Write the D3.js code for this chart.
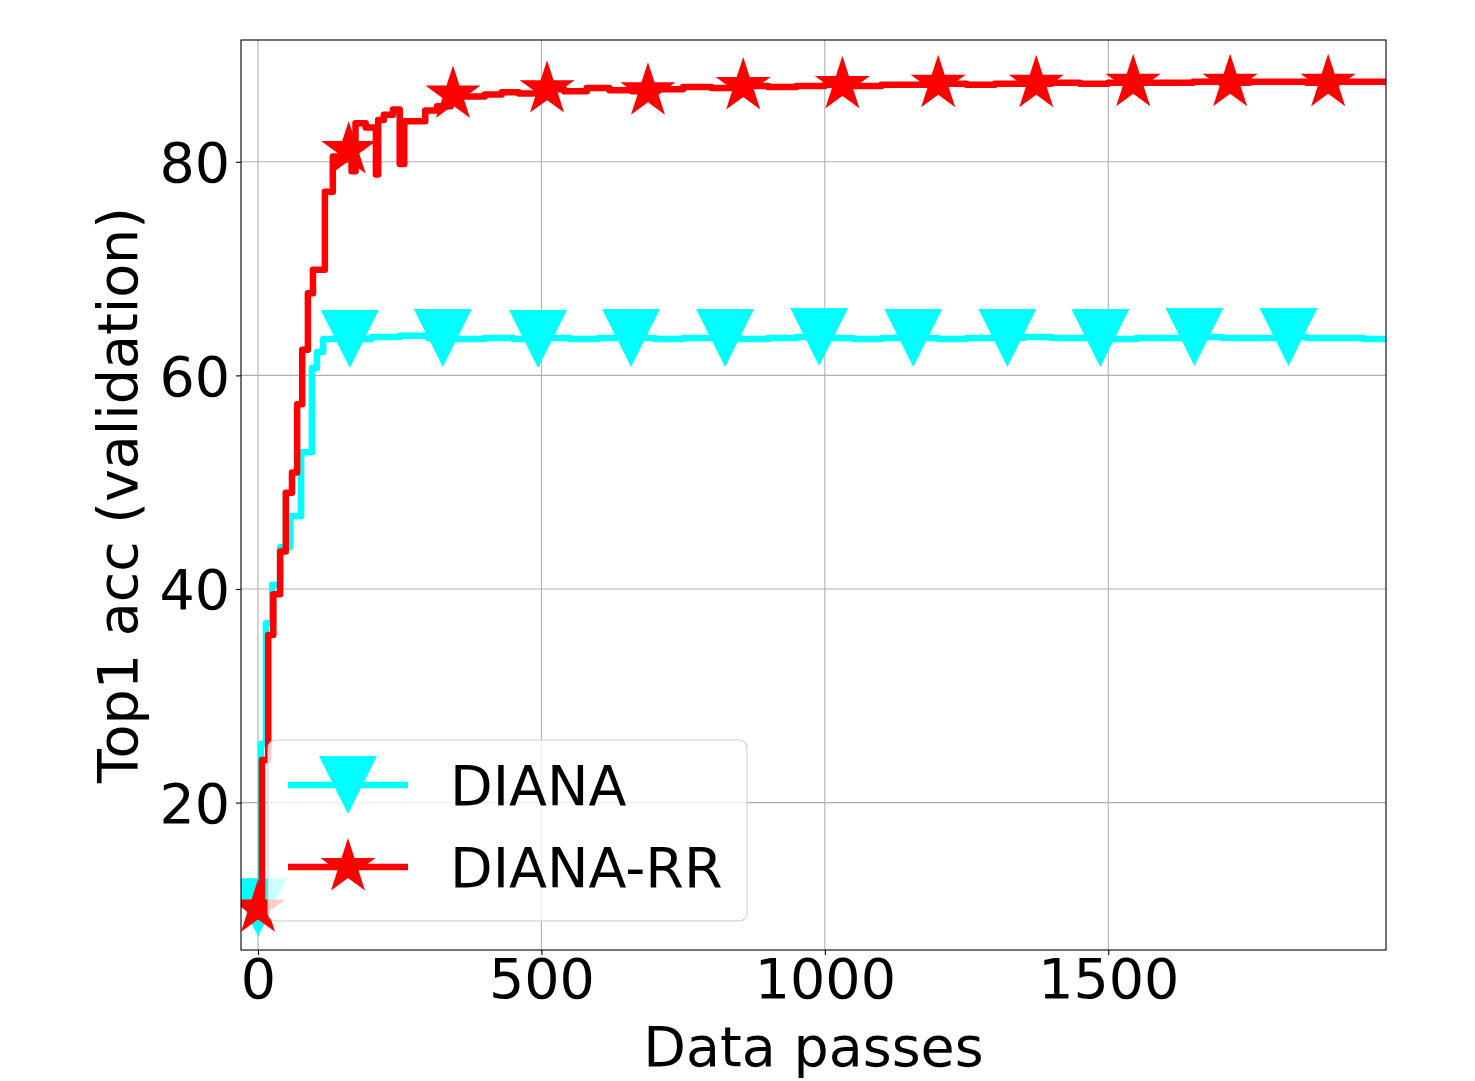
<!DOCTYPE html>
<html>
<head>
<meta charset="utf-8">
<script src="https://cdn.jsdelivr.net/npm/d3@7"></script>
<style>
  body { margin: 0; background: #fff; }
  text { font-family: "DejaVu Sans", sans-serif; fill: #000; }
</style>
</head>
<body>
<svg id="chart" width="1475" height="1081"></svg>
<script>
// DIANA (cyan) – data passes vs top1 validation acc
const dianaX = [0, 5, 14, 25, 39, 56, 76, 95, 104, 115, 150, 200, 250, 300, 350, 400, 450, 500, 550, 600, 650, 700, 750, 800, 850, 900, 950, 1000, 1050, 1100, 1150, 1200, 1250, 1300, 1350, 1400, 1450, 1500, 1550, 1600, 1650, 1700, 1750, 1800, 1850, 1900, 1950, 1990];
const dianaY = [10.2, 25.5, 36.8, 40.4, 43.9, 46.8, 52.8, 60.7, 62.2, 63.4, 63.4, 63.6, 63.7, 63.5, 63.4, 63.5, 63.4, 63.5, 63.4, 63.5, 63.5, 63.4, 63.5, 63.5, 63.4, 63.5, 63.6, 63.5, 63.4, 63.5, 63.5, 63.4, 63.5, 63.5, 63.6, 63.5, 63.5, 63.4, 63.5, 63.5, 63.6, 63.5, 63.5, 63.6, 63.5, 63.5, 63.4, 63.5];
const dianaMarkX = [0, 162, 326, 494, 658, 824, 990, 1156, 1322, 1486, 1652, 1818];

// DIANA-RR (red)
const rrX = [0, 7, 18, 27, 39, 49, 60, 69, 78, 88, 97, 118, 132, 145, 155, 165, 172, 190, 208, 212, 222, 238, 250, 258, 295, 316, 340, 360, 400, 430, 460, 500, 540, 580, 620, 660, 700, 750, 800, 850, 900, 950, 1000, 1050, 1100, 1150, 1200, 1250, 1300, 1350, 1400, 1450, 1500, 1550, 1600, 1650, 1700, 1750, 1800, 1850, 1900, 1950, 1990];
const rrY = [10.1, 24.0, 35.7, 39.5, 43.5, 49.0, 50.9, 57.3, 62.4, 67.7, 69.9, 77.2, 80.5, 80.2, 81.1, 79.1, 83.6, 83.2, 78.8, 83.9, 84.4, 84.9, 79.8, 83.8, 84.8, 85.2, 86.3, 86.1, 86.3, 86.5, 86.4, 86.8, 86.6, 86.9, 86.7, 86.6, 86.8, 87.0, 86.9, 87.1, 87.0, 87.1, 87.2, 87.1, 87.2, 87.2, 87.3, 87.2, 87.3, 87.3, 87.4, 87.3, 87.4, 87.4, 87.4, 87.5, 87.4, 87.5, 87.5, 87.4, 87.5, 87.5, 87.5];
const rrMarkX = [0, 160, 344, 510, 688, 856, 1031, 1200, 1373, 1544, 1715, 1888];

const xTicks = [0, 500, 1000, 1500];
const yTicks = [20, 40, 60, 80];

const series = [
    { name: "DIANA", xs: dianaX, ys: dianaY, marks: dianaMarkX, color: "#00ffff", shape: "tri" },
    { name: "DIANA-RR", xs: rrX, ys: rrY, marks: rrMarkX, color: "#ff0000", shape: "star" }
];

const svg = d3.select("#chart");
const plot = { left: 241, right: 1386, top: 40, bottom: 950 };
const fs = 55.5;

const x = d3.scaleLinear().domain([-30, 1990]).range([plot.left, plot.right]);
const y = d3.scaleLinear().domain([6.2, 91.4]).range([plot.bottom, plot.top]);

svg.append("defs").append("clipPath").attr("id", "clip")
    .append("rect")
    .attr("x", plot.left).attr("y", plot.top)
    .attr("width", plot.right - plot.left).attr("height", plot.bottom - plot.top);

// grid
const grid = svg.append("g").attr("stroke", "#b0b0b0").attr("stroke-width", 1.1);
grid.selectAll(".gx").data(xTicks).join("line")
    .attr("x1", d => x(d)).attr("x2", d => x(d))
    .attr("y1", plot.top).attr("y2", plot.bottom);
grid.selectAll(".gy").data(yTicks).join("line")
    .attr("x1", plot.left).attr("x2", plot.right)
    .attr("y1", d => y(d)).attr("y2", d => y(d));

// marker shapes
const triSize = 58;
const starR = 29;
function markerPath(shape, s) {
    if (shape === "tri") {
        const h = s / 2;
        return `M0,${h}L${-h},${-h}L${h},${-h}Z`;
    }
    const pts = [];
    for (let i = 0; i < 10; i++) {
        const r = i % 2 === 0 ? s : s * 0.381966;
        const a = -Math.PI / 2 + i * Math.PI / 5;
        pts.push([r * Math.cos(a), r * Math.sin(a)]);
    }
    return "M" + pts.map(p => p.join(",")).join("L") + "Z";
}

// value at x, stepping after
function valueAt(s, xv) {
    const i = d3.bisectRight(s.xs, xv) - 1;
    return s.ys[Math.max(0, i)];
}

const area = svg.append("g").attr("clip-path", "url(#clip)");
const line = d3.line().curve(d3.curveStepAfter).x(d => x(d[0])).y(d => y(d[1]));

series.forEach(s => {
    const pts = s.xs.map((v, i) => [v, s.ys[i]]);
    area.append("path")
        .datum(pts)
        .attr("d", line)
        .attr("fill", "none")
        .attr("stroke", s.color)
        .attr("stroke-width", 6.5)
        .attr("stroke-linejoin", "round");
    area.selectAll(null).data(s.marks).join("path")
        .attr("transform", d => `translate(${x(d)},${y(valueAt(s, d))})`)
        .attr("d", markerPath(s.shape, s.shape === "tri" ? triSize : starR))
        .attr("fill", s.color);
});

// spines
svg.append("rect")
    .attr("x", plot.left).attr("y", plot.top)
    .attr("width", plot.right - plot.left).attr("height", plot.bottom - plot.top)
    .attr("fill", "none").attr("stroke", "#000").attr("stroke-width", 1.1);

// axes
const xAxis = svg.append("g").attr("transform", `translate(0,${plot.bottom})`)
    .call(d3.axisBottom(x).tickValues(xTicks).tickFormat(d3.format("d")).tickSize(5).tickPadding(4));
const yAxis = svg.append("g").attr("transform", `translate(${plot.left},0)`)
    .call(d3.axisLeft(y).tickValues(yTicks).tickSize(5).tickPadding(6));
[xAxis, yAxis].forEach(g => {
    g.select(".domain").remove();
    g.selectAll(".tick line").attr("stroke", "#000").attr("stroke-width", 1.1);
    g.selectAll(".tick text").attr("font-size", fs).attr("font-family", "DejaVu Sans").attr("fill", "#000");
});
yAxis.selectAll(".tick text").attr("dy", "0.36em");

svg.append("text")
    .attr("x", (plot.left + plot.right) / 2).attr("y", 1066)
    .attr("text-anchor", "middle").attr("font-size", fs)
    .text("Data passes");
svg.append("text")
    .attr("transform", `translate(137,${(plot.top + plot.bottom) / 2}) rotate(-90)`)
    .attr("text-anchor", "middle").attr("font-size", fs)
    .text("Top1 acc (validation)");

// legend
const leg = svg.append("g");
leg.append("rect")
    .attr("x", 268).attr("y", 740).attr("width", 479).attr("height", 181)
    .attr("rx", 8)
    .attr("fill", "#fff").attr("fill-opacity", 0.8)
    .attr("stroke", "#cccccc").attr("stroke-width", 1.1);
series.forEach((s, i) => {
    const ly = 785 + i * 82;
    leg.append("line")
        .attr("x1", 288).attr("x2", 408).attr("y1", ly).attr("y2", ly)
        .attr("stroke", s.color).attr("stroke-width", 6.5);
    leg.append("path")
        .attr("transform", `translate(348,${ly})`)
        .attr("d", markerPath(s.shape, s.shape === "tri" ? triSize : starR))
        .attr("fill", s.color);
    leg.append("text")
        .attr("x", 450).attr("y", ly + 20)
        .attr("font-size", fs)
        .text(s.name);
});
</script>
</body>
</html>
